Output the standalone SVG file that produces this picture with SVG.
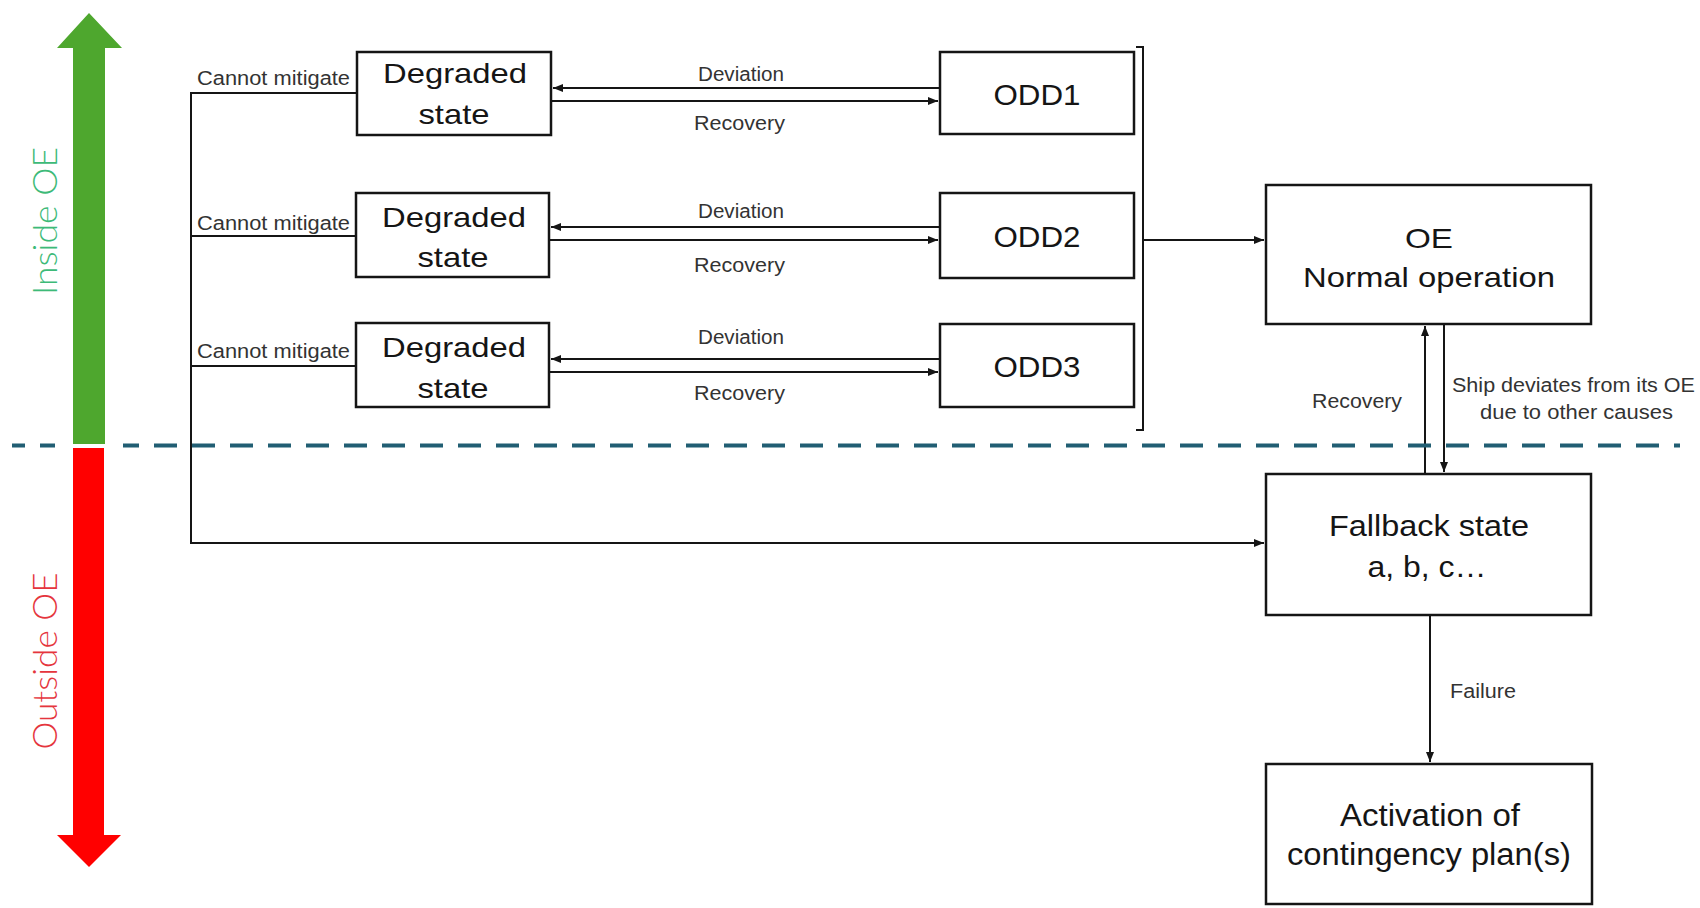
<svg xmlns="http://www.w3.org/2000/svg" width="1700" height="908" viewBox="0 0 1700 908">
<style>
.box{fill:#fff;stroke:#151515;stroke-width:2.5}
.bt{font-family:"Liberation Sans",Arial,sans-serif;fill:#151515;text-anchor:middle}
.lb{font-family:"Liberation Sans",Arial,sans-serif;fill:#333;font-size:20px}
.ln{fill:none;stroke:#151515;stroke-width:2}
.side{font-family:Lato,"Open Sans","Liberation Sans",sans-serif;font-weight:300;font-size:34px;text-anchor:middle}
</style>
<defs>
<marker id="ah" viewBox="0 0 10 8" refX="10" refY="4" markerWidth="10" markerHeight="8" markerUnits="userSpaceOnUse" orient="auto">
<path d="M0,0 L10,4 L0,8 z" fill="#151515"/>
</marker>
</defs>
<rect width="1700" height="908" fill="#fff"/>

<g id="connectors">
<path class="ln" d="M357,93 H191 V543 H1264" marker-end="url(#ah)"/>
<line class="ln" x1="191" y1="236" x2="356" y2="236"/>
<line class="ln" x1="191" y1="366" x2="356" y2="366"/>
<line class="ln" x1="940" y1="88" x2="553" y2="88" marker-end="url(#ah)"/>
<line class="ln" x1="551" y1="101" x2="938" y2="101" marker-end="url(#ah)"/>
<line class="ln" x1="940" y1="227" x2="551" y2="227" marker-end="url(#ah)"/>
<line class="ln" x1="549" y1="240" x2="938" y2="240" marker-end="url(#ah)"/>
<line class="ln" x1="940" y1="359" x2="551" y2="359" marker-end="url(#ah)"/>
<line class="ln" x1="549" y1="372" x2="938" y2="372" marker-end="url(#ah)"/>
<path class="ln" d="M1136,47 H1143 V430 H1136"/>
<line class="ln" x1="1143" y1="240" x2="1264" y2="240" marker-end="url(#ah)"/>
<line class="ln" x1="1425" y1="473" x2="1425" y2="326" marker-end="url(#ah)"/>
<line class="ln" x1="1444" y1="325" x2="1444" y2="472" marker-end="url(#ah)"/>
<line class="ln" x1="1430" y1="616" x2="1430" y2="762" marker-end="url(#ah)"/>
<text class="lb" x="197" y="85" textLength="153" lengthAdjust="spacingAndGlyphs">Cannot mitigate</text>
<text class="lb" x="197" y="230" textLength="153" lengthAdjust="spacingAndGlyphs">Cannot mitigate</text>
<text class="lb" x="197" y="358" textLength="153" lengthAdjust="spacingAndGlyphs">Cannot mitigate</text>
<text class="lb" x="698" y="81" textLength="86" lengthAdjust="spacingAndGlyphs">Deviation</text>
<text class="lb" x="694" y="130" textLength="91" lengthAdjust="spacingAndGlyphs">Recovery</text>
<text class="lb" x="698" y="218" textLength="86" lengthAdjust="spacingAndGlyphs">Deviation</text>
<text class="lb" x="694" y="272" textLength="91" lengthAdjust="spacingAndGlyphs">Recovery</text>
<text class="lb" x="698" y="344" textLength="86" lengthAdjust="spacingAndGlyphs">Deviation</text>
<text class="lb" x="694" y="400" textLength="91" lengthAdjust="spacingAndGlyphs">Recovery</text>
<text class="lb" x="1312" y="408" font-size="21" textLength="90" lengthAdjust="spacingAndGlyphs">Recovery</text>
<text class="lb" x="1452" y="392" font-size="21" textLength="243" lengthAdjust="spacingAndGlyphs">Ship deviates from its OE</text>
<text class="lb" x="1480" y="419" font-size="21" textLength="193" lengthAdjust="spacingAndGlyphs">due to other causes</text>
<text class="lb" x="1450" y="698" font-size="21" textLength="66" lengthAdjust="spacingAndGlyphs">Failure</text>
</g>

<line id="oe-boundary" x1="12" y1="445.5" x2="1680" y2="445.5" stroke="#215e73" stroke-width="4" stroke-dasharray="23 15" stroke-dashoffset="10"/>

<g id="oe-scale">
<rect x="55" y="442" width="68" height="8" fill="#fff"/>
<polygon points="89,13 122,48 105,48 105,444 73,444 73,48 57,48" fill="#4ea72e"/>
<polygon points="73,448 104,448 104,835 121,835 89,867 57,835 73,835" fill="#ff0000"/>
<text class="side" fill="#3dba78" transform="translate(57,221) rotate(-90)" textLength="148" lengthAdjust="spacingAndGlyphs">Inside OE</text>
<text class="side" fill="#e5353d" transform="translate(57,661) rotate(-90)" textLength="177" lengthAdjust="spacingAndGlyphs">Outside OE</text>
</g>

<g id="degraded1">
<rect class="box" x="357" y="52" width="194" height="83"/>
<text class="bt" x="455" y="83" font-size="28" textLength="144" lengthAdjust="spacingAndGlyphs">Degraded</text>
<text class="bt" x="454" y="124" font-size="28" textLength="71" lengthAdjust="spacingAndGlyphs">state</text>
</g>
<g id="degraded2">
<rect class="box" x="356" y="193" width="193" height="84"/>
<text class="bt" x="454" y="227" font-size="28" textLength="144" lengthAdjust="spacingAndGlyphs">Degraded</text>
<text class="bt" x="453" y="267" font-size="28" textLength="71" lengthAdjust="spacingAndGlyphs">state</text>
</g>
<g id="degraded3">
<rect class="box" x="356" y="323" width="193" height="84"/>
<text class="bt" x="454" y="357" font-size="28" textLength="144" lengthAdjust="spacingAndGlyphs">Degraded</text>
<text class="bt" x="453" y="398" font-size="28" textLength="71" lengthAdjust="spacingAndGlyphs">state</text>
</g>
<g id="odd1">
<rect class="box" x="940" y="52" width="194" height="82"/>
<text class="bt" x="1037" y="105" font-size="30" textLength="87" lengthAdjust="spacingAndGlyphs">ODD1</text>
</g>
<g id="odd2">
<rect class="box" x="940" y="193" width="194" height="85"/>
<text class="bt" x="1037" y="247" font-size="30" textLength="87" lengthAdjust="spacingAndGlyphs">ODD2</text>
</g>
<g id="odd3">
<rect class="box" x="940" y="324" width="194" height="83"/>
<text class="bt" x="1037" y="377" font-size="30" textLength="87" lengthAdjust="spacingAndGlyphs">ODD3</text>
</g>
<g id="oe-normal">
<rect class="box" x="1266" y="185" width="325" height="139"/>
<text class="bt" x="1429" y="248" font-size="28" textLength="48" lengthAdjust="spacingAndGlyphs">OE</text>
<text class="bt" x="1429" y="287" font-size="28" textLength="252" lengthAdjust="spacingAndGlyphs">Normal operation</text>
</g>
<g id="fallback">
<rect class="box" x="1266" y="474" width="325" height="141"/>
<text class="bt" x="1429" y="536" font-size="29" textLength="200" lengthAdjust="spacingAndGlyphs">Fallback state</text>
<text class="bt" x="1427" y="577" font-size="29" textLength="119" lengthAdjust="spacingAndGlyphs">a, b, c…</text>
</g>
<g id="contingency">
<rect class="box" x="1266" y="764" width="326" height="140"/>
<text class="bt" x="1430" y="826" font-size="31" textLength="180" lengthAdjust="spacingAndGlyphs">Activation of</text>
<text class="bt" x="1429" y="865" font-size="31" textLength="284" lengthAdjust="spacingAndGlyphs">contingency plan(s)</text>
</g>
</svg>
